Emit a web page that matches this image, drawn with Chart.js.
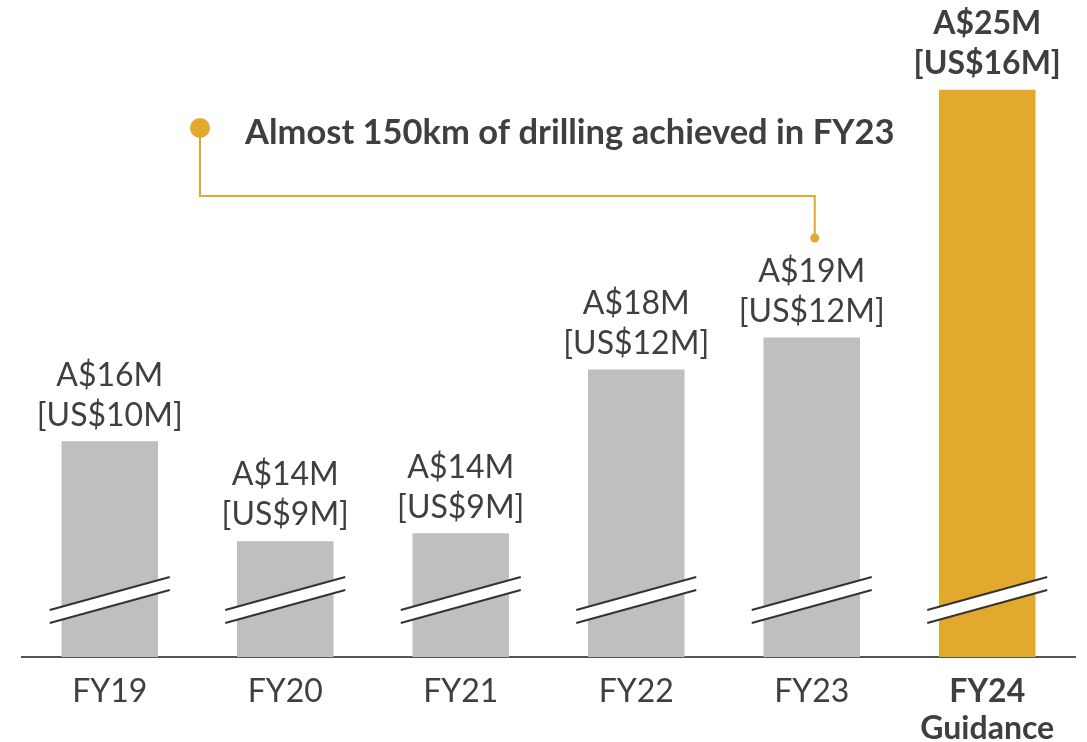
<!DOCTYPE html>
<html>
<head>
<meta charset="utf-8">
<script src="https://cdn.jsdelivr.net/npm/chart.js@4.4.0/dist/chart.umd.min.js"></script>
<style>
  html, body { margin: 0; padding: 0; background: #fff; }
  #wrap { width: 1087px; height: 742px; position: relative; }
</style>
</head>
<body>
<div id="wrap"><canvas id="spendChart"></canvas></div>
<script>
// data
const categories = [['FY19'], ['FY20'], ['FY21'], ['FY22'], ['FY23'], ['FY24', 'Guidance']];
const spendAUD = [16.2, 13.7, 13.9, 18.0, 18.8, 25.0]; // A$M
const labelsAUD = ['A$16M', 'A$14M', 'A$14M', 'A$18M', 'A$19M', 'A$25M'];
const labelsUSD = ['[US$10M]', '[US$9M]', '[US$9M]', '[US$12M]', '[US$12M]', '[US$16M]'];
const guidanceIndex = 5;
const calloutText = 'Almost 150km of drilling achieved in FY23';
const calloutBar = 4;

const GREY = '#bfbfbf';
const GOLD = '#e3a92d';
const TEXT = '#3f3f3f';
const FONT = 'Lato, "Open Sans", sans-serif';

// value labels above bars
const valueLabels = {
  id: 'valueLabels',
  afterDatasetsDraw(chart){
    const ctx = chart.ctx;
    const meta = chart.getDatasetMeta(0);
    ctx.save();
    ctx.textAlign = 'center';
    ctx.textBaseline = 'middle';
    ctx.fillStyle = TEXT;
    meta.data.forEach((bar, i) => {
      const bold = i === guidanceIndex;
      ctx.font = (bold ? 'bold ' : '') + '32px ' + FONT;
      ctx.fillText(labelsAUD[i], bar.x, bar.y - 66);
      ctx.fillText(labelsUSD[i], bar.x, bar.y - 26);
    });
    ctx.restore();
  }
};

// axis-break marks across every bar
const breakMarks = {
  id: 'breakMarks',
  afterDatasetsDraw(chart){
    const ctx = chart.ctx;
    const meta = chart.getDatasetMeta(0);
    const yMid = chart.chartArea.bottom - 57;
    const half = 60, rise = 16.5, gap = 6.5;
    ctx.save();
    meta.data.forEach(bar => {
      const x0 = bar.x - half, x1 = bar.x + half;
      ctx.fillStyle = '#fff';
      ctx.beginPath();
      ctx.moveTo(x0, yMid + rise - gap);
      ctx.lineTo(x1, yMid - rise - gap);
      ctx.lineTo(x1, yMid - rise + gap);
      ctx.lineTo(x0, yMid + rise + gap);
      ctx.closePath();
      ctx.fill();
      ctx.strokeStyle = '#333';
      ctx.lineWidth = 2;
      [-gap, gap].forEach(g => {
        ctx.beginPath();
        ctx.moveTo(x0, yMid + rise + g);
        ctx.lineTo(x1, yMid - rise + g);
        ctx.stroke();
      });
    });
    ctx.restore();
  }
};

// callout pointing at FY23
const callout = {
  id: 'callout',
  afterDraw(chart){
    const ctx = chart.ctx;
    const bar = chart.getDatasetMeta(0).data[calloutBar];
    const dotX = 200, dotY = 128, elbowY = 196;
    const endX = bar.x + 3, endY = 238;
    ctx.save();
    ctx.strokeStyle = GOLD;
    ctx.fillStyle = GOLD;
    ctx.lineWidth = 2;
    ctx.beginPath();
    ctx.moveTo(dotX, dotY);
    ctx.lineTo(dotX, elbowY);
    ctx.lineTo(endX, elbowY);
    ctx.lineTo(endX, endY);
    ctx.stroke();
    ctx.beginPath(); ctx.arc(dotX, dotY, 10, 0, Math.PI * 2); ctx.fill();
    ctx.beginPath(); ctx.arc(endX, endY, 4.5, 0, Math.PI * 2); ctx.fill();
    ctx.fillStyle = TEXT;
    ctx.font = 'bold 34.5px ' + FONT;
    ctx.textAlign = 'left';
    ctx.textBaseline = 'middle';
    ctx.fillText(calloutText, 245, 133);
    ctx.restore();
  }
};

new Chart(document.getElementById('spendChart'), {
  type: 'bar',
  data: {
    labels: categories,
    datasets: [{
      data: spendAUD,
      backgroundColor: spendAUD.map((v, i) => i === guidanceIndex ? GOLD : GREY),
      borderWidth: 0,
      categoryPercentage: 1,
      barPercentage: 0.55
    }]
  },
  options: {
    responsive: true,
    maintainAspectRatio: false,
    animation: false,
    layout: { padding: { left: 22, right: 12, top: 0, bottom: 0 } },
    plugins: { legend: { display: false }, tooltip: { enabled: false } },
    scales: {
      y: { display: false, min: 10.8, max: 27.25 },
      x: {
        grid: { display: false },
        border: { display: true, color: '#555', width: 2 },
        ticks: {
          color: TEXT,
          padding: 8,
          maxRotation: 0,
          autoSkip: false,
          font: c => ({ family: FONT, size: 32, weight: c.index === guidanceIndex ? 'bold' : 'normal', lineHeight: 1.15 })
        },
        afterFit(scale){ scale.height = 85; }
      }
    }
  },
  plugins: [breakMarks, valueLabels, callout]
});
</script>
</body>
</html>
